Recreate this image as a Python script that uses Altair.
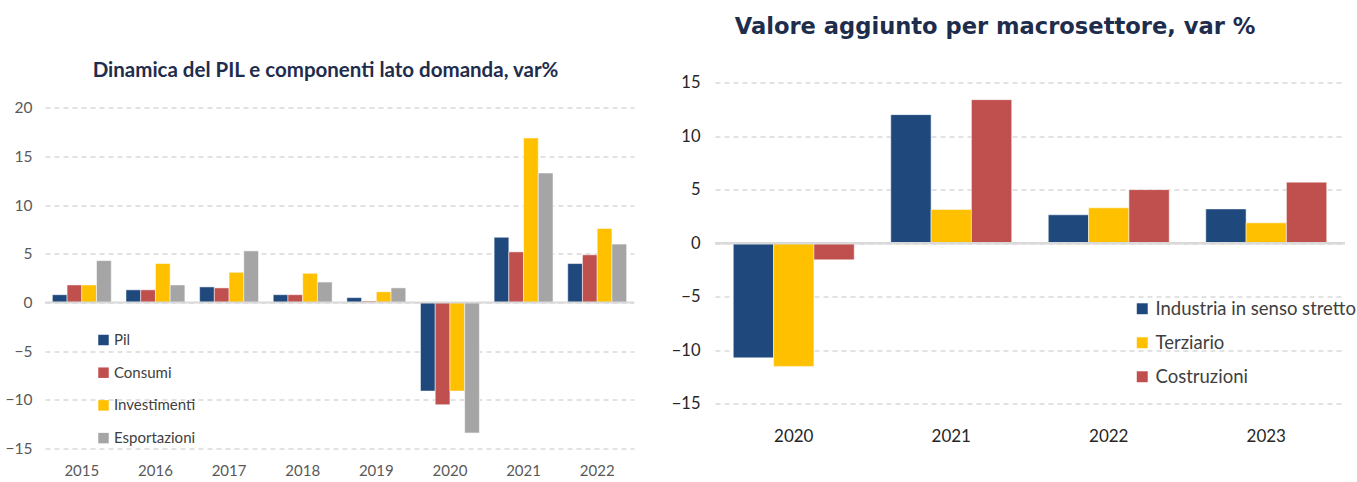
import altair as alt
import pandas as pd

# ---- Left chart data: Dinamica del PIL e componenti lato domanda ----
anni_pil = ["2015", "2016", "2017", "2018", "2019", "2020", "2021", "2022"]
serie_pil = ["Pil", "Consumi", "Investimenti", "Esportazioni"]
colori_pil = ["#1F497D", "#C0504D", "#FFC000", "#A5A5A5"]
pil = [0.8, 1.3, 1.6, 0.8, 0.5, -9.1, 6.7, 4.0]
consumi = [1.8, 1.3, 1.5, 0.8, 0.15, -10.5, 5.2, 4.9]
investimenti = [1.8, 4.0, 3.1, 3.0, 1.1, -9.1, 16.9, 7.6]
esportazioni = [4.3, 1.8, 5.3, 2.1, 1.5, -13.4, 13.3, 6.0]
y_ticks_pil = [-15, -10, -5, 0, 5, 10, 15, 20]

# ---- Right chart data: Valore aggiunto per macrosettore ----
anni_va = ["2020", "2021", "2022", "2023"]
serie_va = ["Industria in senso stretto", "Terziario", "Costruzioni"]
colori_va = ["#1F497D", "#FFC000", "#C0504D"]
industria = [-10.7, 12.0, 2.65, 3.2]
terziario = [-11.5, 3.15, 3.3, 1.9]
costruzioni = [-1.55, 13.4, 5.0, 5.7]
y_ticks_va = [-15, -10, -5, 0, 5, 10, 15]

rows_l = []
for s, vals in zip(serie_pil, [pil, consumi, investimenti, esportazioni]):
    for a, v in zip(anni_pil, vals):
        rows_l.append({"anno": a, "serie": s, "valore": v})
df_l = pd.DataFrame(rows_l)

rows_r = []
for s, vals in zip(serie_va, [industria, terziario, costruzioni]):
    for a, v in zip(anni_va, vals):
        rows_r.append({"anno": a, "serie_va": s, "valore_va": v})
df_r = pd.DataFrame(rows_r)

FONT = "Lato"
GRID = "#D9D9D9"

# ---- Left chart ----
bars_l = alt.Chart(df_l).mark_bar(stroke="white", strokeWidth=0.5).encode(
    x=alt.X("anno:N", sort=anni_pil, title=None,
            scale=alt.Scale(paddingInner=0.2, paddingOuter=0.1),
            axis=alt.Axis(labelAngle=0, labelPadding=14.5, labelFontSize=15,
                          labelColor="#595959", labelFont=FONT,
                          domain=False, ticks=False)),
    xOffset=alt.XOffset("serie:N", sort=serie_pil,
                        scale=alt.Scale(paddingInner=0, paddingOuter=0)),
    y=alt.Y("valore:Q", title=None,
            scale=alt.Scale(domain=[-15, 22.6], nice=False, zero=False),
            axis=alt.Axis(values=y_ticks_pil, grid=True, gridDash=[5, 4],
                          gridColor=GRID, gridWidth=1.3, domain=False,
                          ticks=False, labelPadding=13, labelFontSize=15.5,
                          labelColor="#595959", labelFont=FONT)),
    color=alt.Color("serie:N", sort=serie_pil,
                    scale=alt.Scale(domain=serie_pil, range=colori_pil),
                    legend=alt.Legend(title=None, orient="none", legendX=51,
                                      legendY=250, direction="vertical",
                                      symbolType="square", symbolSize=110,
                                      symbolStrokeWidth=0, labelFontSize=15,
                                      labelFont=FONT, labelColor="#404040",
                                      rowPadding=16.7, labelOffset=3,
                                      padding=0)),
)
rule_l = alt.Chart(pd.DataFrame({"zero": [0]})).mark_rule(
    color=GRID, strokeWidth=2).encode(y="zero:Q")

left = alt.layer(bars_l, rule_l).properties(
    width=589, height=366,
    title=alt.TitleParams("Dinamica del PIL e componenti lato domanda, var%",
                          font=FONT, fontSize=20.5, fontWeight="bold",
                          color="#1F2D4D", anchor="middle", dx=-14, offset=1.5),
)

# ---- Right chart ----
bars_r = alt.Chart(df_r).mark_bar(stroke="white", strokeWidth=0.5).encode(
    x=alt.X("anno:N", sort=anni_va, title=None,
            scale=alt.Scale(paddingInner=0.232, paddingOuter=0.116),
            axis=alt.Axis(labelAngle=0, labelPadding=24.5, labelFontSize=17,
                          labelColor="#262626", labelFont=FONT,
                          domain=False, ticks=False)),
    xOffset=alt.XOffset("serie_va:N", sort=serie_va,
                        scale=alt.Scale(paddingInner=0, paddingOuter=0)),
    y=alt.Y("valore_va:Q", title=None,
            scale=alt.Scale(domain=[-15, 15], nice=False, zero=False),
            axis=alt.Axis(values=y_ticks_va, grid=True, gridDash=[5, 4],
                          gridColor=GRID, gridWidth=1.3, domain=False,
                          ticks=False, labelPadding=15, labelFontSize=16.5,
                          labelColor="#262626", labelFont=FONT)),
    color=alt.Color("serie_va:N", sort=serie_va,
                    scale=alt.Scale(domain=serie_va, range=colori_va),
                    legend=alt.Legend(title=None, orient="none", legendX=418,
                                      legendY=217, direction="vertical",
                                      symbolType="square", symbolSize=120,
                                      symbolStrokeWidth=0, labelFontSize=18.5,
                                      labelFont=FONT, labelColor="#404040",
                                      rowPadding=15, labelOffset=4,
                                      padding=0, labelLimit=400)),
)
rule_r = alt.Chart(pd.DataFrame({"zero_va": [0]})).mark_rule(
    color=GRID, strokeWidth=2.5).encode(y="zero_va:Q")

right = alt.layer(bars_r, rule_r).properties(
    width=630, height=321.4,
    title=alt.TitleParams("Valore aggiunto per macrosettore, var %",
                          font="DejaVu Sans", fontSize=22.6, fontWeight="bold",
                          color="#1F2D4D", anchor="middle", dx=-35, offset=36),
)

chart = alt.hconcat(left, right, spacing=81, bounds="flush").resolve_scale(
    color="independent", x="independent", y="independent",
    xOffset="independent"
).configure_view(stroke=None).properties(
    background="white",
    padding={"left": 5, "top": 15.5, "right": 0, "bottom": 0},
)

chart.save("out.html", embed_options={"renderer": "svg", "actions": False})
